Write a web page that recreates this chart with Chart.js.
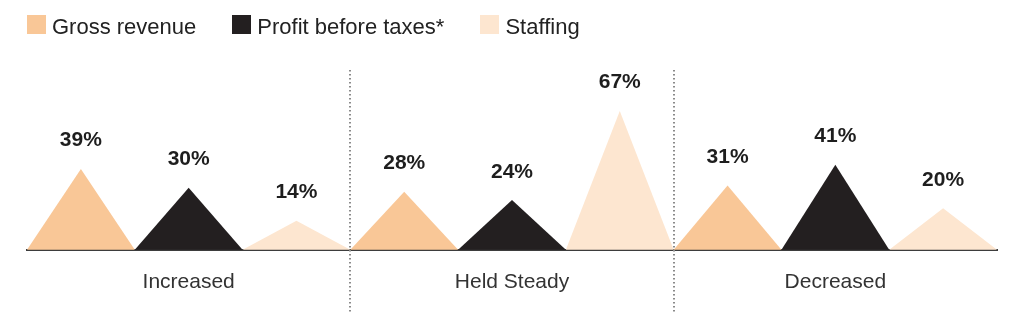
<!DOCTYPE html>
<html>
<head>
<meta charset="utf-8">
<script src="https://cdn.jsdelivr.net/npm/chart.js@4.4.1/dist/chart.umd.min.js"></script>
<style>
  html, body { margin: 0; padding: 0; background: #ffffff; }
  #wrap { position: relative; width: 1024px; height: 323px; }
  #chart { position: absolute; left: 0; top: 0; }
  #legend {
    position: absolute; left: 27px; top: 15px; display: flex;
    font: 22px "Liberation Sans", Arial, sans-serif; color: #222222;
  }
  #legend .item { display: flex; align-items: center; height: 19px; margin-right: 36px; }
  #legend .swatch { width: 19px; height: 19px; margin-right: 6px; }
  #legend .label { position: relative; top: 2px; line-height: 19px; white-space: nowrap; }
</style>
</head>
<body>
<div id="wrap">
  <canvas id="chart" width="1024" height="323"></canvas>
  <div id="legend"></div>
</div>
<script>
// Survey results: share of respondents per outcome
const categories = ['Increased', 'Held Steady', 'Decreased'];
const grossRevenue = [39, 28, 31];
const profitBeforeTaxes = [30, 24, 41];
const staffing = [14, 67, 20];

const seriesNames = ['Gross revenue', 'Profit before taxes*', 'Staffing'];
const seriesColors = ['#F9C797', '#231F20', '#FDE6D0'];
const seriesValues = [grossRevenue, profitBeforeTaxes, staffing];

const FONT = '"Liberation Sans", Arial, sans-serif';

// Each bar is rendered as a triangle peaking at its value
const peakShapes = {
  id: 'peakShapes',
  beforeDatasetDraw(chart, args) {
    const ctx = chart.ctx;
    const color = chart.data.datasets[args.index].backgroundColor;
    ctx.save();
    ctx.fillStyle = color;
    args.meta.data.forEach(bar => {
      const { x, y, base, width } = bar.getProps(['x', 'y', 'base', 'width'], true);
      ctx.beginPath();
      ctx.moveTo(x - width / 2, base);
      ctx.lineTo(x, y);
      ctx.lineTo(x + width / 2, base);
      ctx.closePath();
      ctx.fill();
    });
    ctx.restore();
    return false;
  }
};

// Percentage labels above each peak
const peakLabels = {
  id: 'peakLabels',
  afterDatasetsDraw(chart) {
    const ctx = chart.ctx;
    ctx.save();
    ctx.font = 'bold 21px ' + FONT;
    ctx.fillStyle = '#1e1e1e';
    ctx.textAlign = 'center';
    ctx.textBaseline = 'alphabetic';
    chart.data.datasets.forEach((ds, di) => {
      chart.getDatasetMeta(di).data.forEach((bar, i) => {
        ctx.fillText(ds.data[i] + '%', bar.x, bar.y - 22.5);
      });
    });
    ctx.restore();
  }
};

// Dotted dividers between the outcome groups
const groupDividers = {
  id: 'groupDividers',
  afterDraw(chart) {
    const ctx = chart.ctx;
    const xs = chart.scales.x;
    ctx.save();
    ctx.strokeStyle = '#8a8a8a';
    ctx.lineWidth = 2;
    ctx.setLineDash([1.5, 2.5]);
    for (let i = 1; i < categories.length; i++) {
      const x = Math.round((xs.getPixelForTick(i - 1) + xs.getPixelForTick(i)) / 2);
      ctx.beginPath();
      ctx.moveTo(x, 70);
      ctx.lineTo(x, 312);
      ctx.stroke();
    }
    ctx.restore();
  }
};

// HTML legend built from the series
const legendEl = document.getElementById('legend');
seriesNames.forEach((name, i) => {
  const item = document.createElement('div');
  item.className = 'item';
  const sw = document.createElement('span');
  sw.className = 'swatch';
  sw.style.background = seriesColors[i];
  const label = document.createElement('span');
  label.className = 'label';
  label.textContent = name;
  item.appendChild(sw);
  item.appendChild(label);
  legendEl.appendChild(item);
});

new Chart(document.getElementById('chart'), {
  type: 'bar',
  data: {
    labels: categories,
    datasets: seriesNames.map((name, i) => ({
      label: name,
      data: seriesValues[i],
      backgroundColor: seriesColors[i],
      barPercentage: 1,
      categoryPercentage: 1
    }))
  },
  options: {
    responsive: false,
    animation: false,
    devicePixelRatio: 1,
    layout: { padding: { left: 27, right: 27, top: 84, bottom: 8 } },
    plugins: {
      legend: { display: false },
      tooltip: { enabled: false }
    },
    scales: {
      x: {
        z: 1,
        grid: { display: false, drawTicks: false },
        border: { display: true, color: '#3d3d3d', width: 2 },
        ticks: { color: '#333333', padding: 20, font: { family: FONT, size: 21 } }
      },
      y: {
        display: false,
        min: 0,
        max: 80
      }
    }
  },
  plugins: [peakShapes, peakLabels, groupDividers]
});
</script>
</body>
</html>
